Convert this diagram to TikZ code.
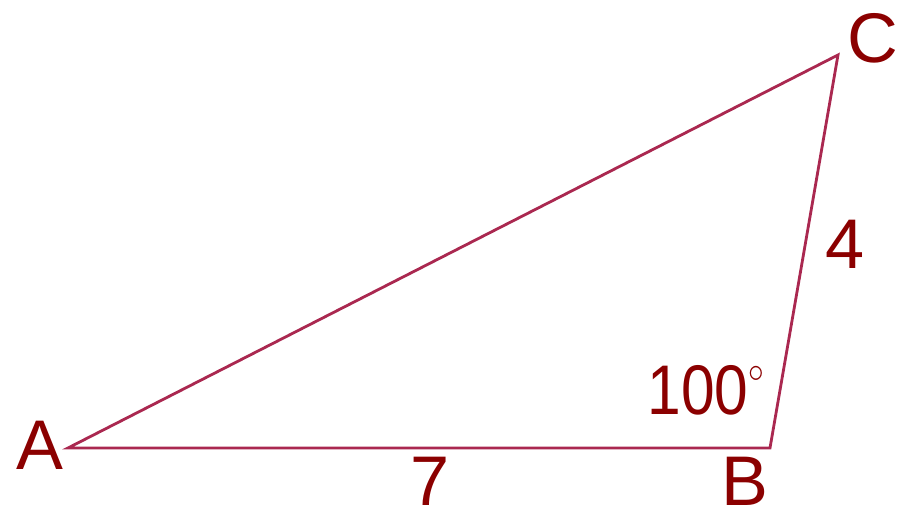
\documentclass[tikz,border=0pt]{standalone}
\usepackage{fontspec}
\setmainfont{Liberation Sans}
\definecolor{edgered}{RGB}{170,40,80}
\definecolor{labelred}{RGB}{139,0,0}
\tikzset{
  lbl/.style={text=labelred, font=\fontsize{40}{48}\selectfont, inner sep=0pt}
}
\begin{document}
\begin{tikzpicture}[x=0.02cm, y=0.02cm]
  \useasboundingbox (0,0) rectangle (904,516);
  % Vertices
  \coordinate (A) at (68,68);
  \coordinate (B) at (770,68);
  \coordinate (C) at (838,461);
  % Triangle
  \draw[edgered, line width=1.6pt, line join=miter] (A) -- (B) -- (C) -- cycle;
  % Vertex labels
  \node[lbl] (labA) at (40,71) {A};
  \node[lbl] (labB) at (745,35) {B};
  \node[lbl] (labC) at (873,478) {C};
  % Sides and angle
  \node[lbl] (sideBC) at (845,272) {4};
  \node[lbl] (sideAB) at (430,35) {7};
  \node[lbl] (angB) at (706,126)
    {\scalebox{0.86}[1]{100\raisebox{0.45em}{\fontsize{20}{20}\selectfont$\circ$}}};
\end{tikzpicture}
\end{document}
